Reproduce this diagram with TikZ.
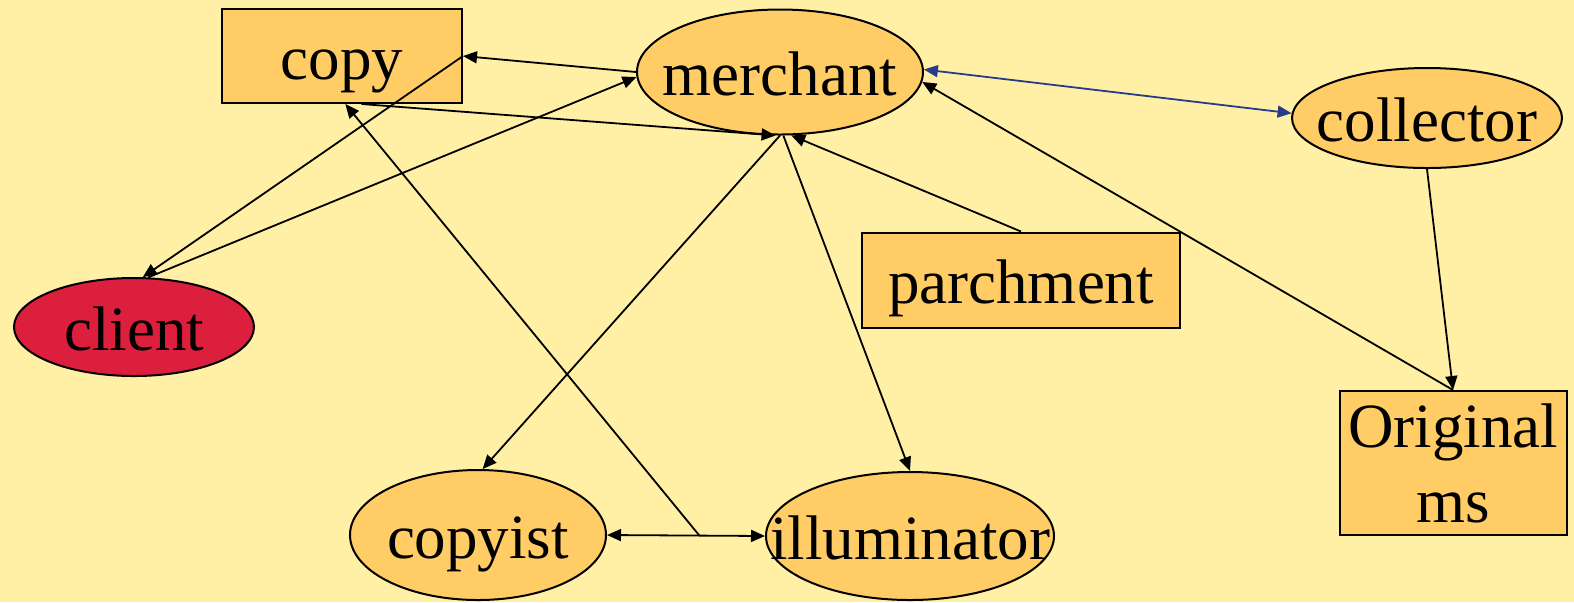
\documentclass[tikz,border=0pt]{standalone}
\usepackage{fontspec}
\setmainfont{Liberation Serif}
\usetikzlibrary{shapes.geometric,arrows.meta}
\definecolor{bg}{HTML}{FFF0A6}
\definecolor{nodefill}{HTML}{FFCC66}
\definecolor{clientred}{HTML}{DC1F3C}
\definecolor{linkblue}{HTML}{283C8C}
\begin{document}
\begin{tikzpicture}[x=0.5pt,y=-0.5pt,
  lbl/.style={font=\fontsize{31.5}{38.5}\selectfont, inner sep=0pt, text height=23.3pt, text depth=0pt},
  boxnode/.style={lbl, rectangle, draw=black, line width=1pt, fill=nodefill},
  ellnode/.style={lbl, ellipse, draw=black, line width=1pt, fill=nodefill},
  conn/.style={line width=0.9pt, -{Triangle[length=7pt,width=6pt]}},
  biconn/.style={line width=0.9pt, {Triangle[length=7pt,width=6pt]}-{Triangle[length=7pt,width=6pt]}}
]
\fill[bg] (0,0) rectangle (1574,602);
\useasboundingbox (0,0) rectangle (1574,602);

\node[boxnode, minimum width=120pt, minimum height=47pt] (copy) at (342,56) {copy};
\node[ellnode, minimum width=143pt, minimum height=62.5pt] (merchant) at (780,72) {\makebox[0pt]{merchant}};
\node[ellnode, minimum width=135pt, minimum height=50pt] (collector) at (1427,118) {\makebox[0pt]{collector}};
\node[ellnode, fill=clientred, minimum width=120pt, minimum height=49pt] (client) at (134,327) {\makebox[0pt]{client}};
\node[boxnode, minimum width=159pt, minimum height=47.5pt] (parchment) at (1021,280) {parchment};
\node[rectangle, draw=black, line width=1pt, fill=nodefill, inner sep=0pt,
      minimum width=113.5pt, minimum height=72pt, align=center,
      font=\fontsize{31.5}{38.5}\selectfont] (orig) at (1453,463) {\raisebox{-3pt}{Original}\\[-1pt]\raisebox{-3pt}{ms}};
\node[ellnode, minimum width=128pt, minimum height=65pt] (copyist) at (478,535) {\makebox[0pt]{copyist}};
\node[ellnode, minimum width=144pt, minimum height=64pt] (illuminator) at (910,536) {\makebox[0pt]{illuminator}};

\draw[conn] (copy.east) -- (client.80);
\draw[conn] (client.74) -- (merchant.182);
\draw[conn] (merchant.180) -- (copy.east);
\draw[conn] (copy.-68) -- (merchant.-94);
\draw[conn] (merchant.-90) -- (copyist.86);
\draw[conn] (merchant.-87) -- (illuminator.north);
\draw[conn] (parchment.north) -- (merchant.-80);
\draw[conn] (orig.north) -- (merchant.-4);
\draw[biconn, color=linkblue] (merchant.1) -- (collector.178);
\draw[conn] (collector.south) -- (orig.north);
\draw[biconn] (copyist.east) -- (illuminator.west);
\path (copyist.east) -- (illuminator.west) coordinate[pos=0.585] (junction);
\draw[conn] (junction) -- (copy.-86);
\end{tikzpicture}
\end{document}
